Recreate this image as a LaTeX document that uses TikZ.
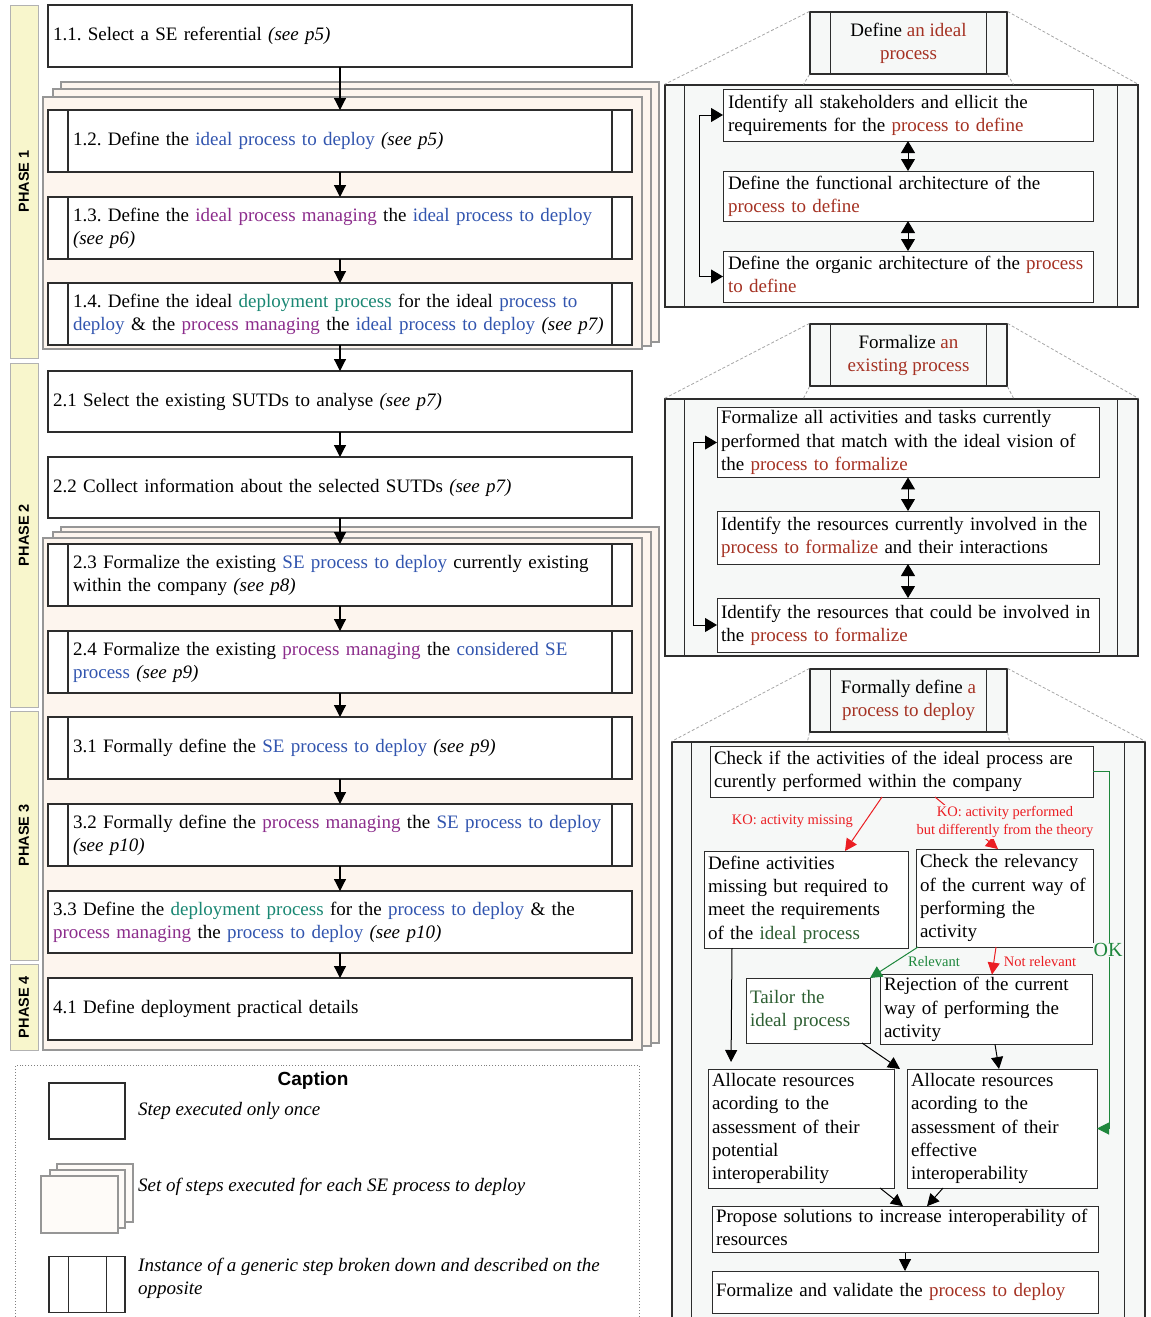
\documentclass[tikz,border=0pt]{standalone}
\usepackage{fontspec}
\setmainfont{Liberation Serif}
\setsansfont{Liberation Sans}
\usepackage{graphicx}
\usetikzlibrary{arrows.meta}
\frenchspacing

\definecolor{kblue}{RGB}{50,85,175}
\definecolor{kpurp}{RGB}{140,45,140}
\definecolor{kteal}{RGB}{25,135,115}
\definecolor{kdred}{RGB}{165,50,35}
\definecolor{kbred}{RGB}{235,30,35}
\definecolor{kgrn}{RGB}{30,135,60}
\definecolor{kdgrn}{RGB}{45,95,50}
\definecolor{peach}{RGB}{253,245,238}
\definecolor{phasey}{RGB}{248,246,204}
\definecolor{panelbg}{RGB}{246,248,247}
\definecolor{edge}{RGB}{45,45,45}
\definecolor{frameg}{RGB}{150,150,150}

\newcommand\kbl[1]{\textcolor{kblue}{#1}}
\newcommand\kpu[1]{\textcolor{kpurp}{#1}}
\newcommand\kte[1]{\textcolor{kteal}{#1}}
\newcommand\kdr[1]{\textcolor{kdred}{#1}}
\newcommand\kdg[1]{\textcolor{kdgrn}{#1}}
\newcommand\tabL[1]{\begin{tabular}{@{}l@{}}#1\end{tabular}}
\newcommand\tabC[1]{\begin{tabular}{@{}c@{}}#1\end{tabular}}
\newcommand\mainfs{\fontsize{19}{23.3}\selectfont}
\newcommand\smallfs{\fontsize{14.5}{18}\selectfont}

% [style]{name}{pad}{x1}{y1}{x2}{y2}{text}
\newcommand\mkbox[8][]{%
  \pgfmathsetmacro\bw{#6-#4}%
  \pgfmathsetmacro\bh{#7-#5}%
  \pgfmathsetmacro\tw{#6-#4-2*#3}%
  \node[stepbox,#1,inner xsep=#3pt,text width=\tw pt,minimum width=\bw pt,minimum height=\bh pt] (#2) at ({(#4+#6)/2},{(#5+#7)/2}) {\tabL{#8}};}

\begin{document}
\begin{tikzpicture}[x=1pt,y=-1pt,
 stepbox/.style={draw=edge,line width=1.1pt,fill=white,font=\mainfs,align=left,inner ysep=0pt,outer sep=0pt},
 stackframe/.style={draw=frameg,line width=1.1pt,fill=peach},
 phase/.style={draw=gray!60,line width=1pt,fill=phasey,minimum width=28,inner sep=0pt,font=\sffamily\bfseries\fontsize{14.5}{17}\selectfont},
 hdr/.style={draw=edge,line width=1.1pt,fill=panelbg,font=\mainfs,inner sep=0pt,minimum width=197,minimum height=62},
 panelbox/.style={draw=edge,line width=1.1pt,fill=panelbg,minimum width=473,inner sep=0pt},
 persp/.style={draw=gray!70,dash pattern=on 3pt off 2pt,line width=0.8pt},
 arr/.style={draw=black,line width=1.2pt,-{Triangle[length=12pt,width=12pt]}},
 darr/.style={draw=black,line width=1pt,{Triangle[length=12pt,width=14pt]}-{Triangle[length=12pt,width=14pt]}},
 redarr/.style={draw=kbred,line width=1pt,-{Triangle[length=12pt,width=12pt]}},
 grnarr/.style={draw=kgrn,line width=1pt,-{Triangle[length=12pt,width=12pt]}},
 lbl/.style={font=\smallfs,inner sep=1pt},
 inl/.style={draw=edge,line width=1.1pt},
]
\useasboundingbox (0,0) rectangle (1151,1317);

% ---------------- phases
\node[phase,minimum height=353] (ph1) at (24,181.5) {\rotatebox{90}{PHASE 1}};
\node[phase,minimum height=344] (ph2) at (24,535) {\rotatebox{90}{PHASE 2}};
\node[phase,minimum height=249] (ph3) at (24,835.5) {\rotatebox{90}{PHASE 3}};
\node[phase,minimum height=86] (ph4) at (24,1007) {\rotatebox{90}{PHASE 4}};

% ---------------- stack frames
\foreach \a/\b/\c/\d in {61/82/659/342, 53/89/651/346, 43/97/642/349,
                         61/527/659/1043, 53/532/651/1046, 43/538/642/1050}
  \draw[stackframe] (\a,\b) rectangle (\c,\d);

% ---------------- left column steps
\mkbox{b11}{5}{48}{5}{632}{67}{1.1. Select a SE referential \textit{(see p5)}}
\mkbox{b12}{25}{48}{110}{632}{172}{1.2. Define the \kbl{ideal process to deploy} \textit{(see p5)}}
\mkbox{b13}{25}{48}{197}{632}{259}{1.3. Define the \kpu{ideal process managing} the \kbl{ideal process to deploy}\\\textit{(see p6)}}
\mkbox{b14}{25}{48}{283}{632}{345}{1.4. Define the ideal \kte{deployment process} for the ideal \kbl{process to}\\\kbl{deploy} \& the \kpu{process managing} the \kbl{ideal process to deploy} \textit{(see p7)}}
\mkbox{b21}{5}{48}{371}{632}{432}{2.1 Select the existing SUTDs to analyse \textit{(see p7)}}
\mkbox{b22}{5}{48}{457}{632}{518}{2.2 Collect information about the selected SUTDs \textit{(see p7)}}
\mkbox{b23}{25}{48}{544}{632}{606}{2.3 Formalize the existing \kbl{SE process to deploy} currently existing\\within the company \textit{(see p8)}}
\mkbox{b24}{25}{48}{631}{632}{693}{2.4 Formalize the existing \kpu{process managing} the \kbl{considered SE}\\\kbl{process} \textit{(see p9)}}
\mkbox{b31}{25}{48}{717}{632}{779}{3.1 Formally define the \kbl{SE process to deploy} \textit{(see p9)}}
\mkbox{b32}{25}{48}{804}{632}{866}{3.2 Formally define the \kpu{process managing} the \kbl{SE process to deploy}\\\textit{(see p10)}}
\mkbox{b33}{5}{48}{891}{632}{953}{3.3 Define the \kte{deployment process} for the \kbl{process to deploy} \& the\\\kpu{process managing} the \kbl{process to deploy} \textit{(see p10)}}
\mkbox{b41}{5}{48}{978}{632}{1040}{4.1 Define deployment practical details}

\foreach \n in {b12,b13,b14,b23,b24,b31,b32} {
  \draw[inl] ([xshift=20pt]\n.north west) -- ([xshift=20pt]\n.south west);
  \draw[inl] ([xshift=-20pt]\n.north east) -- ([xshift=-20pt]\n.south east);
}

\draw[arr] (b11.south) -- (b12.north);
\draw[arr] (b12.south) -- (b13.north);
\draw[arr] (b13.south) -- (b14.north);
\draw[arr] (b14.south) -- (b21.north);
\draw[arr] (b21.south) -- (b22.north);
\draw[arr] (b22.south) -- (b23.north);
\draw[arr] (b23.south) -- (b24.north);
\draw[arr] (b24.south) -- (b31.north);
\draw[arr] (b31.south) -- (b32.north);
\draw[arr] (b32.south) -- (b33.north);
\draw[arr] (b33.south) -- (b41.north);

% ---------------- caption
\node[draw=gray,dotted,line width=0.9pt,minimum width=624,minimum height=265,anchor=north west,inner sep=0pt] (cap) at (15,1065) {};
\node[font=\sffamily\bfseries\fontsize{19}{22}\selectfont,inner sep=0pt] (capt) at (313,1081) {Caption};
\node[draw=edge,line width=1.1pt,fill=white,minimum width=76,minimum height=56,inner sep=0pt] (lg1) at (87,1111) {};
\draw[stackframe,fill=peach!40] (57,1164) rectangle (133,1222);
\draw[stackframe,fill=peach!40] (50,1170) rectangle (125,1228);
\node[stackframe,fill=peach!40,minimum width=77,minimum height=57,inner sep=0pt] (lg2) at (79.5,1204.5) {};
\node[draw=edge,line width=1.1pt,fill=white,minimum width=76,minimum height=56,inner sep=0pt] (lg3) at (87,1284.5) {};
\draw[inl] ([xshift=20pt]lg3.north west) -- ([xshift=20pt]lg3.south west);
\draw[inl] ([xshift=-19pt]lg3.north east) -- ([xshift=-19pt]lg3.south east);
\node[anchor=west,font=\mainfs\itshape,inner sep=0pt] (lt1) at (138,1111) {Step executed only once};
\node[anchor=west,font=\mainfs\itshape,inner sep=0pt] (lt2) at (138,1187) {Set of steps executed for each SE process to deploy};
\node[anchor=west,font=\mainfs\itshape,inner sep=0pt] (lt3) at (138,1278.5) {\tabL{Instance of a generic step broken down and described on the\\opposite}};

% ---------------- right panels
\node[panelbox,minimum height=222] (p1) at (901.5,196) {};
\node[panelbox,minimum height=257] (p2) at (901.5,527.5) {};
\node[panelbox,minimum height=588] (p3) at (908.5,1036) {};
\foreach \p in {p1,p2,p3} {
  \draw[inl] ([xshift=20pt]\p.north west) -- ([xshift=20pt]\p.south west);
  \draw[inl] ([xshift=-21pt]\p.north east) -- ([xshift=-21pt]\p.south east);
}

\node[hdr] (h1) at (908.5,43) {\tabC{Define \kdr{an ideal}\\\kdr{process}}};
\node[hdr] (h2) at (908.5,355) {\tabC{Formalize \kdr{an}\\\kdr{existing process}}};
\node[hdr,minimum height=63] (h3) at (908.5,700.5) {\tabC{Formally define \kdr{a}\\\kdr{process to deploy}}};
\foreach \h in {h1,h2,h3} {
  \draw[inl] ([xshift=21pt]\h.north west) -- ([xshift=21pt]\h.south west);
  \draw[inl] ([xshift=-21pt]\h.north east) -- ([xshift=-21pt]\h.south east);
}

\draw[persp] (h1.north west) -- (p1.north west);
\draw[persp] (h1.north east) -- (p1.north east);
\draw[persp] (h1.south west) -- ([xshift=-6pt]h1.south west |- p1.north);
\draw[persp] (h1.south east) -- ([xshift=6pt]h1.south east |- p1.north);
\draw[persp] (h2.north west) -- (p2.north west);
\draw[persp] (h2.north east) -- (p2.north east);
\draw[persp] (h2.south west) -- ([xshift=-6pt]h2.south west |- p2.north);
\draw[persp] (h2.south east) -- ([xshift=6pt]h2.south east |- p2.north);
\draw[persp] (h3.north west) -- (p3.north west);
\draw[persp] (h3.north east) -- (p3.north east);
\draw[persp] (h3.south west) -- ([xshift=-2pt]h3.south west |- p3.north);
\draw[persp] (h3.south east) -- ([xshift=2pt]h3.south east |- p3.north);

% panel 1
\mkbox[line width=1pt]{A}{5}{723}{89}{1093}{141}{Identify all stakeholders and ellicit the\\requirements for the \kdr{process to define}}
\mkbox[line width=1pt]{B}{5}{723}{171}{1093}{221}{Define the functional architecture of the\\\kdr{process to define}}
\mkbox[line width=1pt]{C}{5}{723}{251}{1093}{302}{Define the organic architecture of the \kdr{process}\\\kdr{to define}}
\draw[darr] (A.south) -- (B.north);
\draw[darr] (B.south) -- (C.north);
\draw[darr] (A.west) -- ++(-24,0) |- (C.west);

% panel 2
\mkbox[line width=1pt]{D}{4}{717}{408}{1099}{477}{Formalize all activities and tasks currently\\performed that match with the ideal vision of\\the \kdr{process to formalize}}
\mkbox[line width=1pt]{E}{4}{717}{511}{1099}{564}{Identify the resources currently involved in the\\\kdr{process to formalize} and their interactions}
\mkbox[line width=1pt]{F}{4}{717}{598}{1099}{652}{Identify the resources that could be involved in\\the \kdr{process to formalize}}
\draw[darr] (D.south) -- (E.north);
\draw[darr] (E.south) -- (F.north);
\draw[darr] (D.west) -- ++(-24,0) |- (F.west);

% panel 3
\mkbox[line width=1pt]{G}{4}{710}{746}{1093}{797}{Check if the activities of the ideal process are\\curently performed within the company}
\mkbox[line width=1pt]{H}{4}{704}{851}{908}{948}{Define activities\\missing but required to\\meet the requirements\\of the \kdg{ideal process}}
\mkbox[line width=1pt]{I}{4}{916}{849}{1093}{947}{Check the relevancy\\of the current way of\\performing the\\activity}
\mkbox[line width=1pt]{J}{4}{746}{978}{870}{1043}{\kdg{Tailor the}\\\kdg{ideal process}}
\mkbox[line width=1pt]{K}{4}{880}{977}{1092}{1042}{Rejection of the current\\way of performing the\\activity}
\mkbox[line width=1pt]{L}{4}{708}{1069}{894}{1188}{Allocate resources\\acording to the\\assessment of their\\potential\\interoperability}
\mkbox[line width=1pt]{M}{4}{907}{1069}{1097}{1188}{Allocate resources\\acording to the\\assessment of their\\effective\\interoperability}
\mkbox[line width=1pt]{N}{4}{712}{1208}{1098}{1251}{Propose solutions to increase interoperability of\\resources}
\mkbox[line width=1pt]{O}{4}{712}{1271}{1098}{1313}{Formalize and validate the \kdr{process to deploy}}

\draw[redarr] ([xshift=172pt]G.south west) -- ([xshift=141pt]H.north west);
\draw[redarr] ([xshift=225pt]G.south west) -- ([xshift=82pt]I.north west);
\draw[grnarr] (G.east) -- ++(16,0) |- (M.east);
\draw[grnarr] ([xshift=2pt]I.south west) -- (J.north east);
\draw[redarr] ([xshift=80pt]I.south west) -- ([xshift=112pt]K.north west);
\draw[arr,line width=1pt,shorten >=7pt] ([xshift=28pt]H.south west) -- ([xshift=23pt]L.north west);
\draw[arr,line width=1pt] ([xshift=-8pt]J.south east) -- ([xshift=-7pt]M.north west);
\draw[arr,line width=1pt] ([xshift=115pt]K.south west) -- ([xshift=92pt]M.north west);
\draw[arr,line width=1pt] ([xshift=-14pt]L.south east) -- ([xshift=191pt]N.north west);
\draw[arr,line width=1pt] ([xshift=36pt]M.south west) -- ([xshift=215pt]N.north west);
\draw[arr,line width=1pt] (N.south) -- (O.north);

\node[lbl,text=kbred,anchor=east] (ko1) at (854,821) {KO: activity missing};
\node[lbl,text=kbred,fill=panelbg,align=center] (ko2) at (1005,822) {KO: activity performed\\but differently from the theory};
\node[lbl,text=kgrn] (rel) at (934,962) {Relevant};
\node[lbl,text=kbred] (nrel) at (1040,962) {Not relevant};
\node[font=\fontsize{20}{22}\selectfont,text=kgrn,fill=panelbg,inner sep=0.5pt] (ok) at (1108,950) {OK};
\end{tikzpicture}
\end{document}
